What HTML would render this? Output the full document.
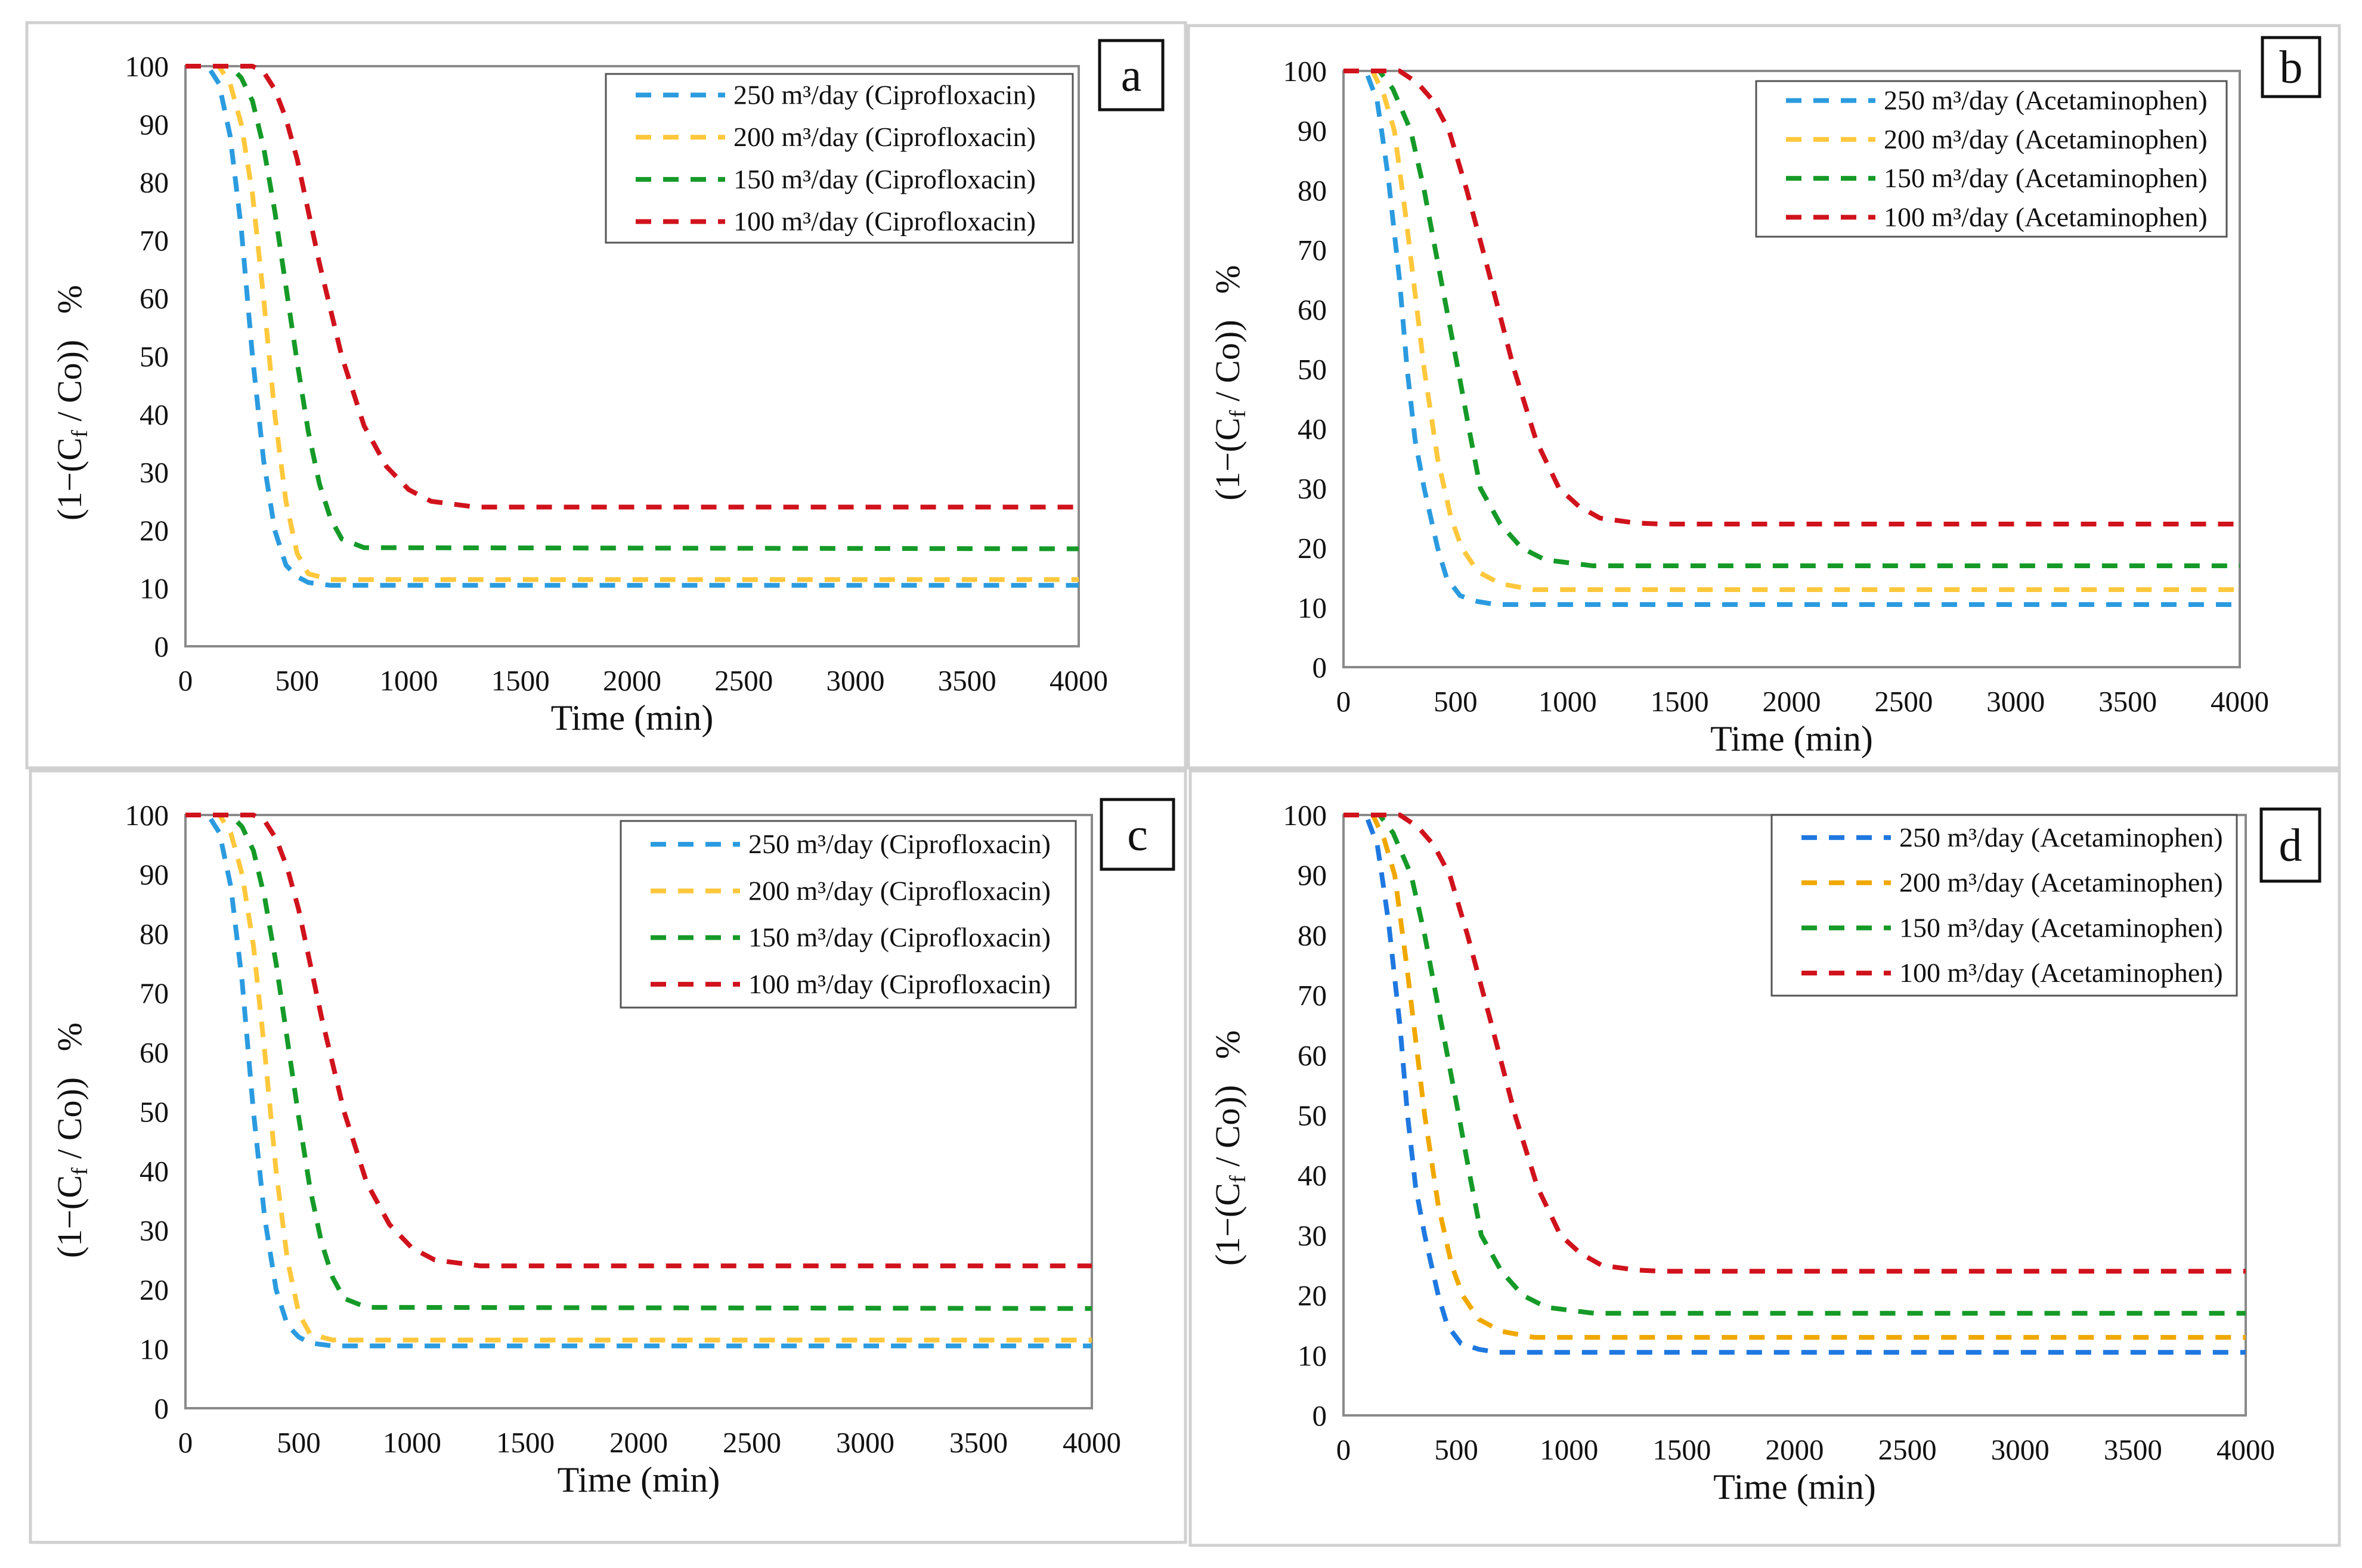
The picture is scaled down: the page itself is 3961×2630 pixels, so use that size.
<!DOCTYPE html>
<html><head><meta charset="utf-8"><style>
html,body{margin:0;padding:0;background:#fff;}
svg{display:block;font-family:"Liberation Serif",serif;}
</style></head><body>
<svg id="fig" width="3961" height="2630" viewBox="0 0 3961 2630" xmlns="http://www.w3.org/2000/svg"></svg>
<script>
const xTicks=[0,500,1000,1500,2000,2500,3000,3500,4000];
const yTicks=[0,10,20,30,40,50,60,70,80,90,100];
const flowLabels=["250","200","150","100"];

const ciproT250=[0,100,150,200,250,300,350,400,450,500,550,650,4000];
const ciproV250=[100,100,97,88,72,50,32,20,14,12,11,10.5,10.5];
const ciproT200=[0,150,200,250,300,350,400,450,500,550,650,4000];
const ciproV200=[100,100,97,90,78,60,40,25,16,12.5,11.5,11.5];
const ciproT150=[0,200,250,300,350,400,450,500,550,600,650,700,800,4000];
const ciproV150=[100,100,98,94,86,75,62,49,37,28,22,18.5,17,16.8];
const ciproT100=[0,300,350,400,450,500,600,700,800,900,1000,1100,1300,4000];
const ciproV100=[100,100,99,96,91,84,66,50,38,31,27,25,24,24];

const acetT250=[0,100,150,170,200,250,284,320,360,420,460,520,600,680,4000];
const acetV250=[100,100,95,90,82,65,50,38,30,20,15,12,11,10.5,10.5];
const acetT200=[0,130,180,227,280,360,420,480,528,600,700,845,4000];
const acetV200=[100,100,96,90,75,50,35,25,20,16,14,13,13];
const acetT150=[0,160,220,300,360,420,511,560,611,700,795,900,1112,4000];
const acetV150=[100,100,97,90,80,68,50,40,30,24,20,18,17,17];
const acetT100=[0,250,330,400,471,550,650,761,860,962,1050,1145,1300,1412,4000];
const acetV100=[100,100,98,95,90,80,66,50,38,30,27,25,24.2,24,24];

const NS="http://www.w3.org/2000/svg";
const svg=document.getElementById('fig');
function mk(tag,attrs,parent){const e=document.createElementNS(NS,tag);for(const k in attrs)e.setAttribute(k,attrs[k]);(parent||svg).appendChild(e);return e;}

const panels=[
 {id:'a',yoff:78,outer:[45,38,1943,1250],plot:[311,111,1809,1084],leg:[1016,124,1799,407],lab:[1844,68,1950,184],drug:'Ciprofloxacin',
  colors:['#2b9be0','#ffc83c','#159a28','#d0121c'],series:[[ciproT250,ciproV250],[ciproT200,ciproV200],[ciproT150,ciproV150],[ciproT100,ciproV100]]},
 {id:'b',yoff:23,outer:[1993,43,1930,1245],plot:[2253,119,3756,1119],leg:[2945,136,3734,397],lab:[3794,63,3890,162],drug:'Acetaminophen',
  colors:['#2b9be0','#ffc83c','#159a28','#d0121c'],series:[[acetT250,acetV250],[acetT200,acetV200],[acetT150,acetV150],[acetT100,acetV100]]},
 {id:'c',yoff:48,outer:[51,1293,1937,1294],plot:[311,1367,1831,2362],leg:[1041,1377,1804,1690],lab:[1847,1341,1968,1458],drug:'Ciprofloxacin',
  colors:['#2b9be0','#ffc83c','#159a28','#d0121c'],series:[[ciproT250,ciproV250],[ciproT200,ciproV200],[ciproT150,ciproV150],[ciproT100,ciproV100]]},
 {id:'d',yoff:55,outer:[1996,1293,1927,1299],plot:[2253,1367,3766,2374],leg:[2971,1367,3751,1670],lab:[3792,1357,3890,1478],drug:'Acetaminophen',
  colors:['#1f78e0','#f0a800','#159a28','#d0121c'],series:[[acetT250,acetV250],[acetT200,acetV200],[acetT150,acetV150],[acetT100,acetV100]]}
];

panels.forEach(p=>{
  const g=mk('g',{});
  
  
  const o=mk('rect',{x:p.outer[0],y:p.outer[1],width:p.outer[2],height:p.outer[3],fill:'none',stroke:'#d0d0d0','stroke-width':5},g);
  
  
  const [x0,y0,x1,y1]=p.plot;
  const sx=t=>x0+(t/4000)*(x1-x0);
  const sy=v=>y1-(v/100)*(y1-y0);
  const fr=mk('rect',{x:x0,y:y0,width:x1-x0,height:y1-y0,fill:'none',stroke:'#8a8a8a','stroke-width':4},g);
  
  
  yTicks.forEach(v=>{
    const t=mk('text',{x:x0-28,y:sy(v)+17,'text-anchor':'end','font-size':49,fill:'#111'},g);
    
    
    t.textContent=v;
  });
  xTicks.forEach(v=>{
    const t=mk('text',{x:sx(v),y:y1+74,'text-anchor':'middle','font-size':49,fill:'#111'},g);
    
    
    t.textContent=v;
  });
  const xt=mk('text',{x:(x0+x1)/2,y:y1+140,'text-anchor':'middle','font-size':60,fill:'#111'},g);
  
  
  xt.textContent='Time (min)';
  const cy=(y0+y1)/2+p.yoff, cx=x0-175;
  const yt=mk('text',{x:cx,y:cy,'text-anchor':'middle','font-size':58,fill:'#111',transform:`rotate(-90 ${cx} ${cy})`},g);
  
  
  yt.innerHTML='(1\u2212(C<tspan font-size="38" dy="10">f</tspan><tspan dy="-10"> / Co))\u00a0\u00a0\u00a0%</tspan>';
  p.series.forEach((s,i)=>{
    const [ts,vs]=s;
    const d=ts.map((t,k)=>(k?'L':'M')+sx(t).toFixed(1)+','+sy(vs[k]).toFixed(1)).join(' ');
    const path=mk('path',{d:d,fill:'none',stroke:p.colors[i],'stroke-width':8,'stroke-dasharray':'26 20','stroke-linejoin':'round'},g);
    
    
  });
  const [lx0,ly0,lx1,ly1]=p.leg;
  const lg=mk('g',{},g);
  
  
  mk('rect',{x:lx0,y:ly0,width:lx1-lx0,height:ly1-ly0,fill:'#fff',stroke:'#555','stroke-width':3},lg);
  const rowH=(ly1-ly0)/4;
  flowLabels.forEach((f,i)=>{
    const yy=ly0+rowH*(i+0.5);
    const ln=mk('line',{x1:lx0+50,y1:yy,x2:lx0+200,y2:yy,stroke:p.colors[i],'stroke-width':8,'stroke-dasharray':'26 20'},lg);
    
    
    const t=mk('text',{x:lx0+214,y:yy+15,'font-size':46,fill:'#111'},lg);
    
    
    t.textContent=f+' m\u00b3/day ('+p.drug+')';
  });
  const [bx0,by0,bx1,by1]=p.lab;
  const lb=mk('rect',{x:bx0,y:by0,width:bx1-bx0,height:by1-by0,fill:'#fff',stroke:'#111','stroke-width':5},g);
  
  
  const lt=mk('text',{x:(bx0+bx1)/2,y:(by0+by1)/2+26,'text-anchor':'middle','font-size':78,fill:'#111'},g);
  
  
  lt.textContent=p.id;
});
</script>
</body></html>
